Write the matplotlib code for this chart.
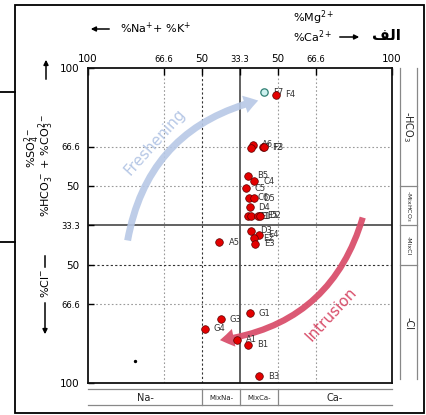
import matplotlib.pyplot as plt
from matplotlib.patches import FancyArrowPatch, Rectangle
from matplotlib.lines import Line2D

# sample positions on the diagram (axis units: 0 = 33.3 line, +-1 = 50, +-2 = 66.6, +-4 = 100)
labels = ['F4', 'A6', 'A7', 'F2', 'F3', 'B5', 'C4', 'C5', 'C6', 'D5', 'D4',
          'D1', 'E1', 'E5', 'D2', 'D3', 'E4', 'E2', 'E3', 'A5',
          'G1', 'G3', 'G4', 'A1', 'B1', 'B3']
xs = [0.96, 0.34, 0.30, 0.61, 0.64, 0.21, 0.37, 0.15, 0.23, 0.37, 0.25,
      0.20, 0.30, 0.48, 0.53, 0.28, 0.50, 0.37, 0.40, -0.54,
      0.25, -0.51, -0.93, -0.07, 0.21, 0.51]
ys = [3.32, 2.05, 1.97, 1.99, 1.99, 1.26, 1.12, 0.94, 0.70, 0.69, 0.46,
      0.24, 0.24, 0.25, 0.25, -0.13, -0.24, -0.33, -0.46, -0.42,
      -2.23, -2.38, -2.62, -2.90, -3.03, -3.83]

# reference sample (hollow)
ref_label = ['F7']
ref_x = [0.63]
ref_y = [3.38]

# stray dot
dot_x = [-2.77]
dot_y = [-3.43]

tick_pos = [-4, -2, -1, 0, 1, 2, 4]
tick_txt = ['100', '66.6', '50', '33.3', '50', '66.6', '100']

bottom_classes = ['Na-', 'MixNa-', 'MixCa-', 'Ca-']
right_classes = ['-HCO$_3$', '-MixHCO$_3$', '-MixCl', '-Cl']

W, H = 426, 415


def fx(px):
    return px / W


def fy(py):
    return 1 - py / H


fig = plt.figure(figsize=(W / 100, H / 100), dpi=100)
ax = fig.add_axes([fx(88), fy(383), (392 - 88) / W, (383 - 68) / H])
ax.set_xlim(-4, 4)
ax.set_ylim(-4, 4)

# grid
for v in [-2, 1, 2]:
    ax.axvline(v, color='#9a9a9a', ls=(0, (1.5, 2)), lw=0.8, zorder=1)
    ax.axhline(v, color='#9a9a9a', ls=(0, (1.5, 2)), lw=0.8, zorder=1)
ax.axvline(-1, color='#333333', ls=(0, (2, 2)), lw=0.8, zorder=1)
ax.axhline(-1, color='#333333', ls=(0, (2, 2)), lw=0.8, zorder=1)
ax.axvline(0, color='#555555', lw=1.3, zorder=1)
ax.axhline(0, color='#555555', lw=1.3, zorder=1)

for s in ax.spines.values():
    s.set_linewidth(1.3)
    s.set_color('#111111')

ax.xaxis.tick_top()
ax.set_xticks(tick_pos)
ax.set_xticklabels(tick_txt)
ax.set_yticks(tick_pos)
ax.set_yticklabels(tick_txt)
ax.tick_params(axis='x', direction='in', length=5, width=1, pad=3, top=True, bottom=False)
ax.tick_params(axis='y', direction='in', length=4, width=1, pad=6)
for lab in ax.get_xticklabels() + ax.get_yticklabels():
    if '.' in lab.get_text():
        lab.set_fontsize(6)
    else:
        lab.set_fontsize(7.5)

# arrows
fresh = FancyArrowPatch((-2.97, -0.45), (0.55, 3.19), connectionstyle='arc3,rad=-0.33',
                        arrowstyle='simple,head_width=13,head_length=10,tail_width=5',
                        mutation_scale=1, color='#b7c8e6', alpha=0.9, lw=0, zorder=2)
ax.add_patch(fresh)
intr = FancyArrowPatch((3.25, 0.27), (-0.6, -2.92), connectionstyle='arc3,rad=-0.33',
                       arrowstyle='simple,head_width=13,head_length=10,tail_width=4.5',
                       mutation_scale=1, color='#d9506c', alpha=0.95, lw=0, zorder=2)
ax.add_patch(intr)
ax.text(-2.25, 2.12, 'Freshening', rotation=48, color='#b7c8e6', fontsize=11,
        ha='center', va='center', zorder=2)
ax.text(2.4, -2.25, 'Intrusion', rotation=47, color='#d9506c', fontsize=11,
        ha='center', va='center', zorder=2)

# labels under the markers
for lab, x, y in zip(labels + ref_label, xs + ref_x, ys + ref_y):
    ax.annotate(lab, (x, y), xytext=(6.5, 0), textcoords='offset points',
                fontsize=6, color='#333333', ha='left', va='center', zorder=2)

ax.scatter(ref_x, ref_y, s=28, facecolor='#cdf1ef', edgecolor='#2f7f72', lw=0.9, zorder=3)
ax.scatter(xs, ys, s=30, facecolor='#e30000', edgecolor='#5a0000', lw=0.5, zorder=4)
ax.scatter(dot_x, dot_y, s=2, color='black', zorder=4)

# class band at the bottom
band_kw = dict(color='#888888', lw=0.9, clip_on=False)
ax.plot([-4, 4], [-4.16, -4.16], **band_kw)
ax.plot([-4, 4], [-4.57, -4.57], **band_kw)
for v in [-1, 0, 1]:
    ax.plot([v, v], [-4.16, -4.57], **band_kw)
for lab, x in zip(bottom_classes, [-2.5, -0.5, 0.5, 2.5]):
    ax.text(x, -4.37, lab, ha='center', va='center', fontsize=7 if len(lab) < 5 else 5,
            color='#222222', clip_on=False)

# class band on the right
ax.plot([4.2, 4.2], [4, -3.9], **band_kw)
ax.plot([4.65, 4.65], [4, -3.9], **band_kw)
for v in [-1, 0, 1]:
    ax.plot([4.2, 4.65], [v, v], **band_kw)
for lab, y in zip(right_classes, [2.5, 0.5, -0.5, -2.5]):
    ax.text(4.43, y, lab, ha='center', va='center', rotation=-90,
            fontsize=7 if 'Mix' not in lab else 4.5, color='#222222', clip_on=False)

# outer frame and side box
fig.add_artist(Rectangle((fx(15), fy(413)), fx(424) - fx(15), fy(5) - fy(413),
                         transform=fig.transFigure, fill=False, ec='black', lw=1.3))
fig.add_artist(Line2D([0, fx(15)], [fy(92), fy(92)], color='black', lw=1.3))
fig.add_artist(Line2D([0, fx(15)], [fy(242), fy(242)], color='black', lw=1.3))


def farrow(p0, p1):
    fig.add_artist(FancyArrowPatch((fx(p0[0]), fy(p0[1])), (fx(p1[0]), fy(p1[1])),
                                   transform=fig.transFigure, arrowstyle='-|>',
                                   mutation_scale=7, color='black', lw=1.1))


# header texts
farrow((112, 29), (88, 29))
fig.text(fx(120), fy(28), r'%Na$^{+}$+ %K$^{+}$', fontsize=8, ha='left', va='center')
fig.text(fx(293), fy(18), r'%Mg$^{2+}$', fontsize=8, ha='left', va='center')
fig.text(fx(293), fy(37), r'%Ca$^{2+}$', fontsize=8, ha='left', va='center')
farrow((337, 37), (362, 37))
fig.text(fx(372), fy(35), '\ufed2\ufedf\ufe8d', fontsize=11, fontweight='bold',
         ha='left', va='center')

# left axis texts
farrow((46, 82), (46, 57))
fig.text(fx(32), fy(148), r'%SO$_4^{2-}$', fontsize=8, rotation=90, ha='center', va='center')
fig.text(fx(46), fy(165), r'%HCO$_3^-$ + %CO$_3^{2-}$', fontsize=8, rotation=90,
         ha='center', va='center')
fig.add_artist(Line2D([fx(45), fx(45)], [fy(256), fy(267)], color='black', lw=1.1))
fig.text(fx(45), fy(283), r'%Cl$^{-}$', fontsize=8, rotation=90, ha='center', va='center')
farrow((45, 300), (45, 337))

fig.savefig('out.png', dpi=100)
